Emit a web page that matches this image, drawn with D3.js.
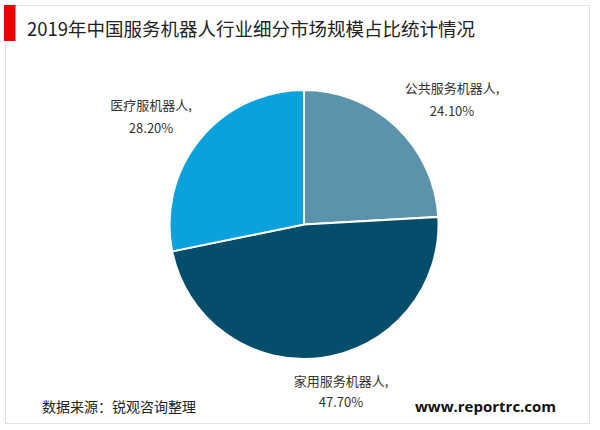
<!DOCTYPE html>
<html><head><meta charset="utf-8">
<script src="https://cdn.jsdelivr.net/npm/d3@7"></script>
<style>body{margin:0;background:#fff}svg{display:block}</style>
</head><body>
<svg id="c" width="600" height="430"></svg>
<script>
const categories = ["公共服务机器人", "家用服务机器人", "医疗服机器人"];
const values = [24.10, 47.70, 28.20];
const colors = ["#5a93ab", "#044d6b", "#0aa2dc"];
const title = "2019年中国服务机器人行业细分市场规模占比统计情况";
const source = "数据来源：锐观咨询整理";
const site = "www.reportrc.com";

const svg = d3.select("#c");
const font = "'Noto Sans CJK SC', 'Noto Sans', sans-serif";

svg.append("rect").attr("x", 5.5).attr("y", 5.5).attr("width", 584).attr("height", 418)
  .attr("fill", "#fff").attr("stroke", "#e2e2e2").attr("stroke-width", 1);
svg.append("rect").attr("x", 4).attr("y", 5).attr("width", 11.5).attr("height", 36).attr("fill", "#ee0000");
svg.append("text").attr("x", 27).attr("y", 35.5).attr("font-family", font).attr("font-size", 18.5)
  .attr("fill", "#222").text(title);

const cx = 304, cy = 224.5, r = 134.5;
const data = categories.map((c, i) => ({name: c, value: values[i], color: colors[i]}));
const pie = d3.pie().value(d => d.value).sort(null);
const arc = d3.arc().innerRadius(0).outerRadius(r);
const g = svg.append("g").attr("transform", `translate(${cx},${cy})`);
const arcs = pie(data);
g.selectAll("path").data(arcs).join("path")
  .attr("d", arc).attr("fill", d => d.data.color)
  .attr("stroke", "#fff").attr("stroke-width", 2);

// label positions via a larger arc
const labelArc = d3.arc().innerRadius(r * 1.3).outerRadius(r * 1.3);
const offsets = [[28, -4], [14.5, -11.5], [-17.5, -3.5]];
const gaps = [23, 21, 23];
arcs.forEach((a, i) => {
  const [x, y] = labelArc.centroid(a);
  const lx = x + offsets[i][0], ly = y + offsets[i][1];
  const t = g.append("text").attr("text-anchor", "middle").attr("font-family", font)
    .attr("font-size", 13).attr("fill", "#333");
  t.append("tspan").attr("x", lx).attr("y", ly).text(a.data.name + ",");
  t.append("tspan").attr("x", lx).attr("y", ly + gaps[i]).text(d3.format(".2f")(a.data.value) + "%");
});

svg.append("text").attr("x", 42).attr("y", 412).attr("font-family", font).attr("font-size", 14)
  .attr("fill", "#222").text(source);
svg.append("text").attr("x", 415).attr("y", 412).attr("font-family", "'Open Sans', 'DejaVu Sans', sans-serif")
  .attr("font-size", 15).attr("font-weight", "bold").attr("fill", "#111").text(site);
</script>
</body></html>
